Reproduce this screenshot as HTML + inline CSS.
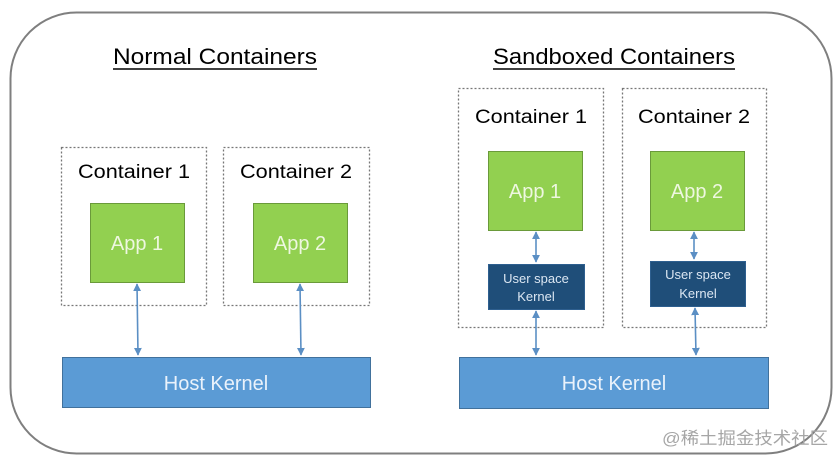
<!DOCTYPE html>
<html><head><meta charset="utf-8"><style>
html,body{margin:0;padding:0;background:#fff;}
svg{display:block;}
text{font-family:"Liberation Sans","Noto Sans CJK SC",sans-serif;}
</style></head><body>
<svg width="840" height="461" viewBox="0 0 840 461" xmlns="http://www.w3.org/2000/svg">
<defs>
<marker id="a" viewBox="0 0 10 10" refX="9" refY="5" markerWidth="5" markerHeight="5" orient="auto-start-reverse">
<path d="M0,0 L10,5 L0,10 z" fill="#5b8fc4"/></marker>
</defs>
<rect x="10.5" y="12.5" width="821" height="441" rx="66" ry="66" fill="#fff" stroke="#7f7f7f" stroke-width="2"/>

<text x="215" y="64" font-size="22" text-anchor="middle" textLength="204" lengthAdjust="spacingAndGlyphs" fill="#000">Normal Containers</text>
<line x1="113" y1="69" x2="317" y2="69" stroke="#000" stroke-width="1.5"/>
<text x="614" y="64" font-size="22" text-anchor="middle" textLength="242" lengthAdjust="spacingAndGlyphs" fill="#000">Sandboxed Containers</text>
<line x1="493" y1="69" x2="735" y2="69" stroke="#000" stroke-width="1.5"/>

<g fill="none" stroke="#777" stroke-width="1.3" stroke-dasharray="2,2">
<rect x="61.5" y="147.5" width="145" height="158"/>
<rect x="223.5" y="147.5" width="146" height="158"/>
<rect x="458.5" y="88.5" width="145" height="239"/>
<rect x="622.5" y="88.5" width="144" height="239"/>
</g>

<g font-size="19" fill="#000" text-anchor="middle">
<text x="134" y="178" textLength="112" lengthAdjust="spacingAndGlyphs">Container 1</text>
<text x="296" y="178" textLength="112" lengthAdjust="spacingAndGlyphs">Container 2</text>
<text x="531" y="123" textLength="112" lengthAdjust="spacingAndGlyphs">Container 1</text>
<text x="694" y="123" textLength="112" lengthAdjust="spacingAndGlyphs">Container 2</text>
</g>

<g fill="#92d050" stroke="#6a9a3a" stroke-width="1">
<rect x="90.5" y="203.5" width="94" height="79"/>
<rect x="253.5" y="203.5" width="94" height="79"/>
<rect x="488.5" y="151.5" width="94" height="79"/>
<rect x="650.5" y="151.5" width="94" height="79"/>
</g>
<g font-size="20" fill="#eef7e0" text-anchor="middle">
<text x="137" y="250">App 1</text>
<text x="300" y="250">App 2</text>
<text x="535" y="198">App 1</text>
<text x="697" y="198">App 2</text>
</g>

<g fill="#1f4e79" stroke="#2e5f8f" stroke-width="1">
<rect x="488.5" y="264.5" width="96" height="45"/>
<rect x="650.5" y="261.5" width="95" height="45"/>
</g>
<g font-size="13" fill="#dbe6f2" text-anchor="middle">
<text x="536" y="283">User space</text>
<text x="536" y="301">Kernel</text>
<text x="698" y="279">User space</text>
<text x="698" y="298">Kernel</text>
</g>

<g fill="#5b9bd5" stroke="#41719c" stroke-width="1">
<rect x="62.5" y="357.5" width="308" height="50"/>
<rect x="459.5" y="357.5" width="309" height="51"/>
</g>
<g font-size="20" fill="#eaf2fb" text-anchor="middle">
<text x="216" y="390">Host Kernel</text>
<text x="614" y="390">Host Kernel</text>
</g>

<g stroke="#5b8fc4" stroke-width="1.6" marker-start="url(#a)" marker-end="url(#a)">
<line x1="137" y1="284" x2="138" y2="355"/>
<line x1="300" y1="284" x2="301" y2="355"/>
<line x1="536" y1="232" x2="536" y2="262"/>
<line x1="536" y1="311" x2="536" y2="355"/>
<line x1="694" y1="232" x2="694" y2="259"/>
<line x1="695" y1="308" x2="696" y2="355"/>
</g>

<text x="745" y="444" font-size="17" fill="#a6a6a6" text-anchor="middle" textLength="166" lengthAdjust="spacingAndGlyphs">@稀土掘金技术社区</text>
</svg>
</body></html>
